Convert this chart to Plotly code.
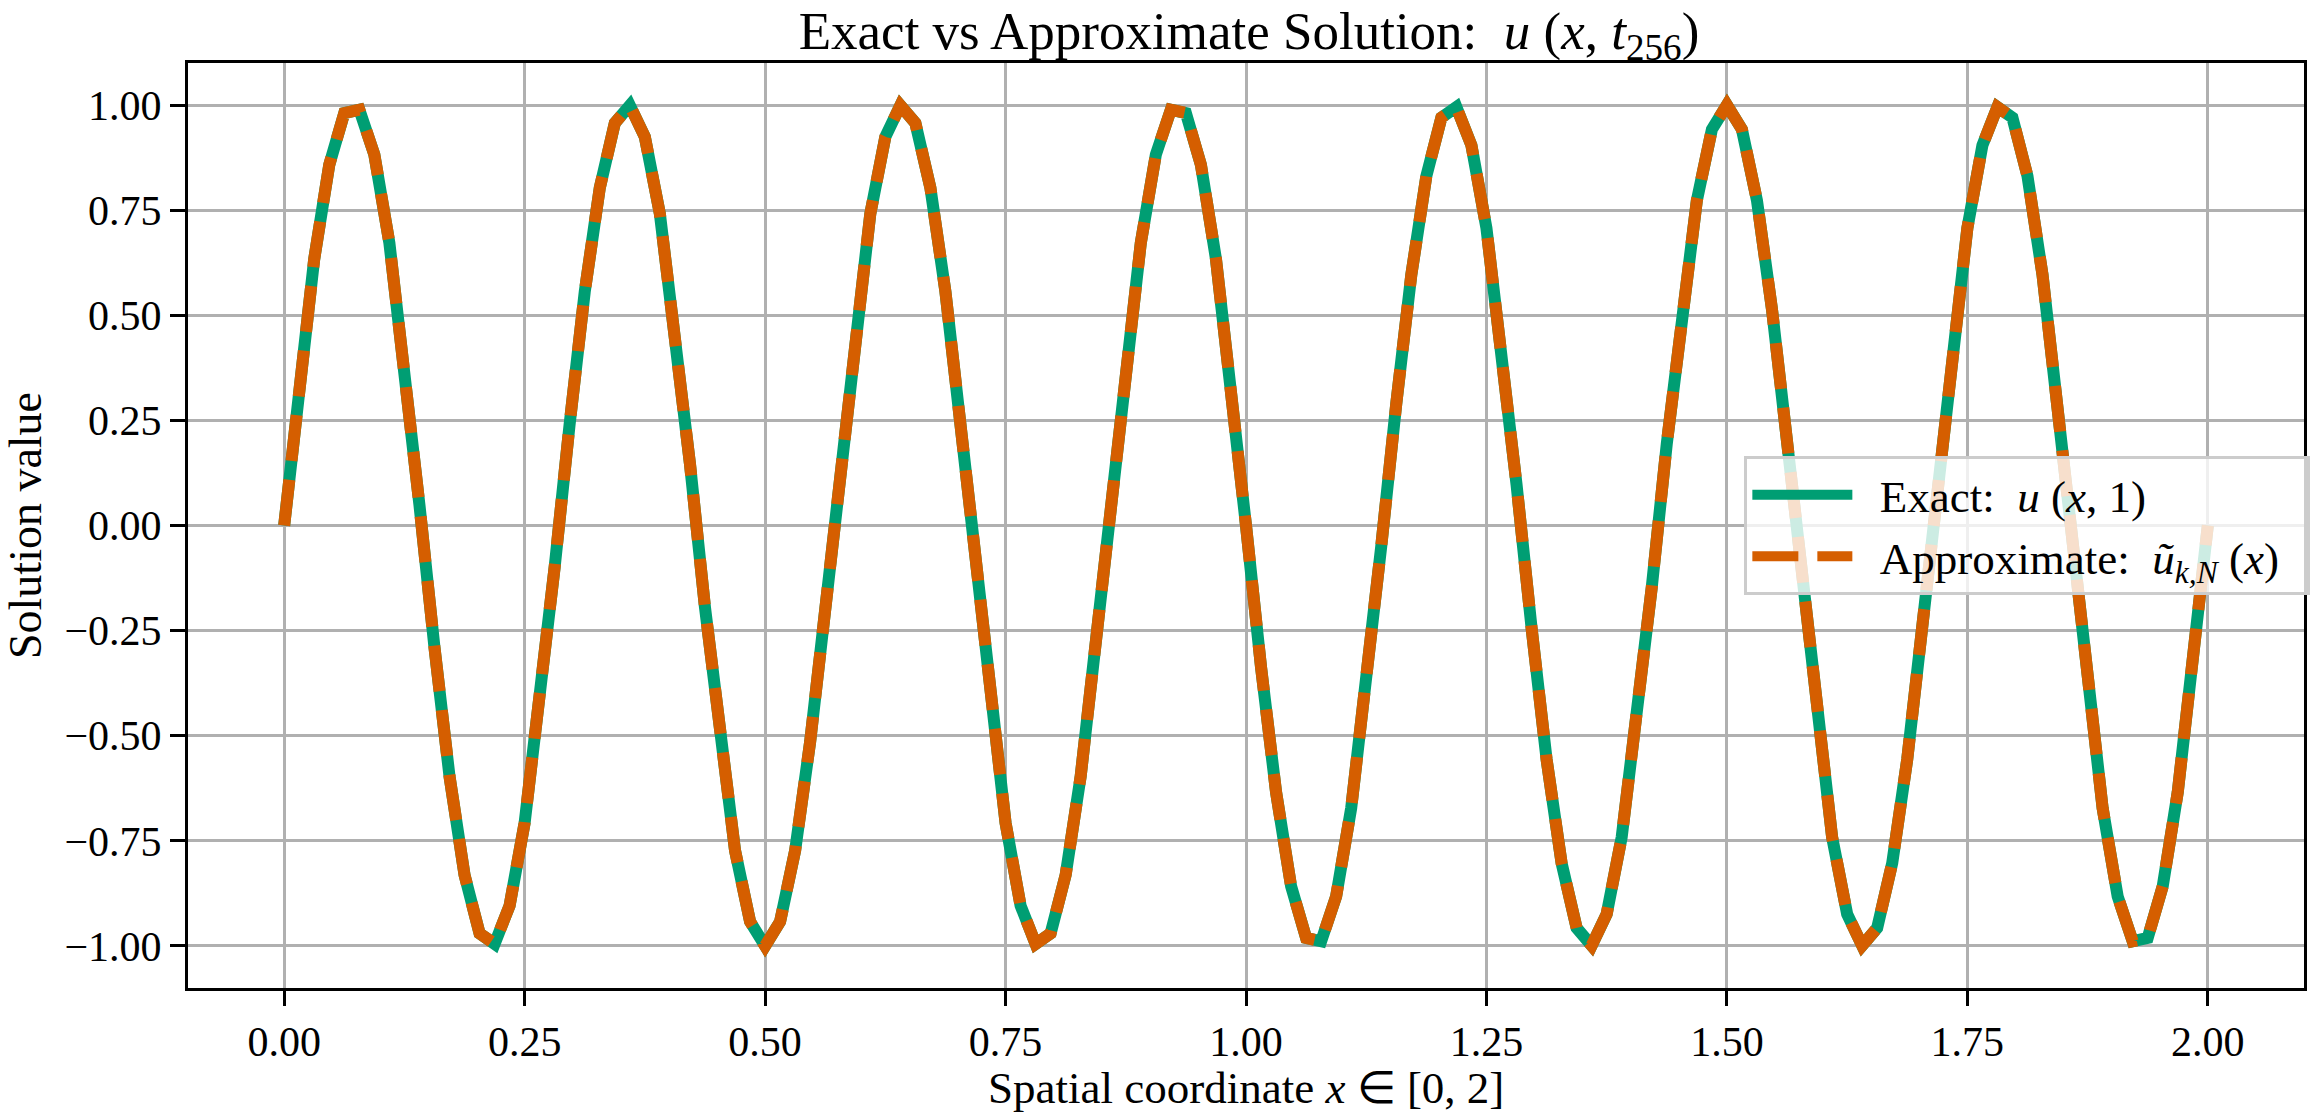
import numpy as np
import plotly.graph_objects as go

# spatial grid (129 evenly spaced samples on [0, 2])
x_vals = np.linspace(0.0, 2.0, 129)

u_exact = [
    0.000, 0.337, 0.634, 0.858, 0.981, 0.989, 0.882, 0.672, 0.383, 0.049,
    -0.290, -0.596, -0.831, -0.970, -0.995, -0.904, -0.707, -0.428, -0.098, 0.243,
    0.556, 0.803, 0.957, 0.999, 0.924, 0.741, 0.471, 0.147, -0.195, -0.514,
    -0.773, -0.942, -1.000, -0.942, -0.773, -0.514, -0.195, 0.147, 0.471, 0.741,
    0.924, 0.999, 0.957, 0.803, 0.556, 0.243, -0.098, -0.428, -0.707, -0.904,
    -0.995, -0.970, -0.831, -0.596, -0.290, 0.049, 0.383, 0.672, 0.882, 0.989,
    0.981, 0.858, 0.634, 0.337, 0.000,
    -0.337, -0.634, -0.858, -0.981, -0.989, -0.882, -0.672, -0.383, -0.049,
    0.290, 0.596, 0.831, 0.970, 0.995, 0.904, 0.707, 0.428, 0.098, -0.243,
    -0.556, -0.803, -0.957, -0.999, -0.924, -0.741, -0.471, -0.147, 0.195, 0.514,
    0.773, 0.942, 1.000, 0.942, 0.773, 0.514, 0.195, -0.147, -0.471, -0.741,
    -0.924, -0.999, -0.957, -0.803, -0.556, -0.243, 0.098, 0.428, 0.707, 0.904,
    0.995, 0.970, 0.831, 0.596, 0.290, -0.049, -0.383, -0.672, -0.882, -0.989,
    -0.981, -0.858, -0.634, -0.337, 0.000,
]

u_approx = list(u_exact)

x_ticks = [0.0, 0.25, 0.5, 0.75, 1.0, 1.25, 1.5, 1.75, 2.0]
y_ticks = [-1.0, -0.75, -0.5, -0.25, 0.0, 0.25, 0.5, 0.75, 1.0]

FONT = "Liberation Serif"
W, H = 2313, 1112
L, R, T, B = 188, 3, 63, 124
PLOT_H = H - T - B

fig = go.Figure()
fig.add_trace(go.Scatter(
    x=x_vals, y=u_exact, mode="lines",
    name="\u2002Exact:  <i>u</i> (<i>x</i>, 1)",
    line=dict(color="#009E73", width=12),
))
fig.add_trace(go.Scatter(
    x=x_vals, y=u_approx, mode="lines",
    name="\u2002Approximate:  <i>ũ</i><sub><i>k,N</i></sub> (<i>x</i>)\u2002",
    line=dict(color="#D55E00", width=12, dash="46px,19px"),
))

axis_common = dict(
    showline=True, linecolor="black", linewidth=3, mirror=True,
    ticks="outside", ticklen=15, tickwidth=3, tickcolor="black",
    showgrid=True, gridcolor="#b0b0b0", gridwidth=3,
    zeroline=False, tickfont=dict(family=FONT, size=42, color="black"),
    tickformat=".2f", automargin=False,
)

fig.update_layout(
    width=W, height=H,
    margin=dict(l=L, r=R, t=T, b=B),
    paper_bgcolor="white", plot_bgcolor="white",
    font=dict(family=FONT, size=42, color="black"),
    title=dict(
        text="Exact vs Approximate Solution:  <i>u</i> (<i>x</i>, <i>t</i><sub>256</sub>)",
        x=(L + (W - R - L) / 2) / W, xanchor="center",
        y=1 - 30 / H, yanchor="middle",
        font=dict(family=FONT, size=53, color="black"),
    ),
    xaxis=dict(range=[-0.1, 2.1], tickvals=x_ticks, **axis_common),
    yaxis=dict(
        range=[-1.1, 1.1], tickvals=y_ticks,
        title=dict(text="Solution value",
                   font=dict(family=FONT, size=46), standoff=12),
        **axis_common,
    ),
    legend=dict(
        x=1.003, xanchor="right", y=0.5, yanchor="middle",
        bgcolor="rgba(255,255,255,0.8)", bordercolor="#cccccc", borderwidth=3,
        font=dict(family=FONT, size=45, color="black"),
        itemwidth=100, tracegroupgap=0,
    ),
    showlegend=True,
    annotations=[dict(
        text="Spatial coordinate <i>x</i> ∈ [0, 2]",
        xref="paper", yref="paper", x=0.5, y=-(1088 - (H - B)) / PLOT_H,
        xanchor="center", yanchor="middle", showarrow=False,
        font=dict(family=FONT, size=45, color="black"),
    )],
)

fig.write_html("out.html")
